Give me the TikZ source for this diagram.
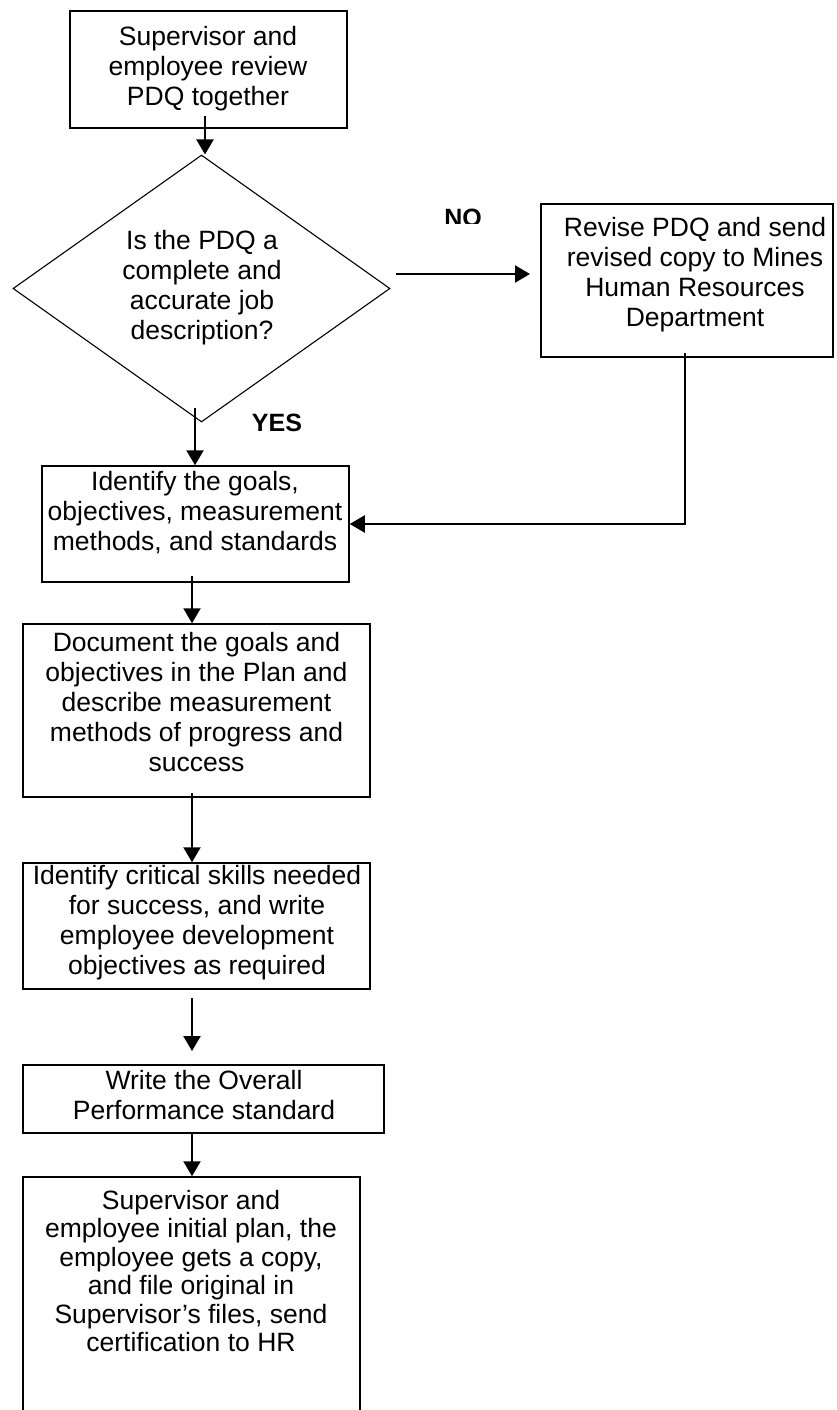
\documentclass[tikz,border=0pt]{standalone}
\usepackage{fontspec}
\setmainfont{Liberation Sans}
\usetikzlibrary{arrows.meta,shapes.geometric}
\begin{document}
\begin{tikzpicture}[x=1pt,y=-1pt,
  box/.style={draw, line width=1.5pt, inner sep=0pt, rectangle},
  txt/.style={align=center, font=\fontsize{26.5}{30}\selectfont, inner sep=0pt},
  arr/.style={line width=2.2pt, -{Triangle[length=15pt,width=17pt]}},
  lbl/.style={font=\fontsize{25}{28}\selectfont\bfseries, inner sep=0pt}]
\useasboundingbox (0,0) rectangle (836,1410);
\clip (0,0) rectangle (836,1410);
\fill[white] (0,0) rectangle (836,1410);

% shapes
\node[box, minimum width=277pt, minimum height=117pt] (b1) at (208.5,69.5) {};
\node[draw, diamond, line width=1.1pt, inner sep=0pt, minimum width=377pt, minimum height=267pt] (d) at (201.5,288.5) {};
\node[box, minimum width=292pt, minimum height=153pt] (rev) at (687,280.5) {};
\node[box, minimum width=307pt, minimum height=116pt] (b3) at (195.5,524) {};
\node[box, minimum width=347pt, minimum height=173pt] (b4) at (196.5,710.5) {};
\node[box, minimum width=347pt, minimum height=126pt] (b5) at (196.5,926) {};
\node[box, minimum width=361pt, minimum height=68pt] (b6) at (203.5,1099) {};
\node[box, minimum width=337pt, minimum height=253pt] (b7) at (191.5,1303.5) {};

% texts
\node[txt] (t1) at (208,69) {Supervisor and\\employee review\\PDQ together};
\node[txt] (td) at (202,288) {Is the PDQ a\\complete and\\accurate job\\description?};
\node[txt] (trev) at (695,275) {Revise PDQ and send\\revised copy to Mines\\Human Resources\\Department};
\node[txt] (t3) at (195,513) {Identify the goals,\\objectives, measurement\\methods, and standards};
\node[txt] (t4) at (196.5,702) {Document the goals and\\objectives in the Plan and\\describe measurement\\methods of progress and\\success};
\node[txt] (t5) at (197,923) {Identify critical skills needed\\for success, and write\\employee development\\objectives as required};
\node[txt] (t6) at (204,1095) {Write the Overall\\Performance standard};
\node[txt, font=\fontsize{26.5}{28.5}\selectfont] (t7) at (191,1271) {Supervisor and\\employee initial plan, the\\employee gets a copy,\\and file original in\\Supervisor’s files, send\\certification to HR};

% labels
\node[lbl] (yes) at (277,423) {YES};
\begin{scope}
  \clip (420,190) rectangle (510,223);
  \node[lbl, anchor=base] (no) at (463,226) {NO};
\end{scope}

% connectors
\draw[arr] ([xshift=-3.5pt,yshift=13pt]b1.south) -- ([xshift=3.5pt]d.north);
\coordinate (ys) at (195,408);
\draw[arr] (ys) -- (b3.north -| ys);
\coordinate (nos) at (396,274);
\coordinate (noe) at (530,274);
\draw[arr] (nos) -- (noe);
\draw[arr] ([xshift=-2pt,yshift=5pt]rev.south) |- (b3.east);
\draw[arr] ([xshift=-3.5pt,yshift=7pt]b3.south) -- ([xshift=-4.5pt]b4.north);
\draw[arr] ([xshift=-4.5pt,yshift=5pt]b4.south) -- ([xshift=-4.5pt]b5.north);
\coordinate (e56) at (192,1051);
\draw[arr] ([xshift=-4.5pt,yshift=-8pt]b5.south) -- (e56);
\draw[arr] ([xshift=-11.5pt]b6.south) -- ([xshift=0.5pt]b7.north);
\end{tikzpicture}
\end{document}
